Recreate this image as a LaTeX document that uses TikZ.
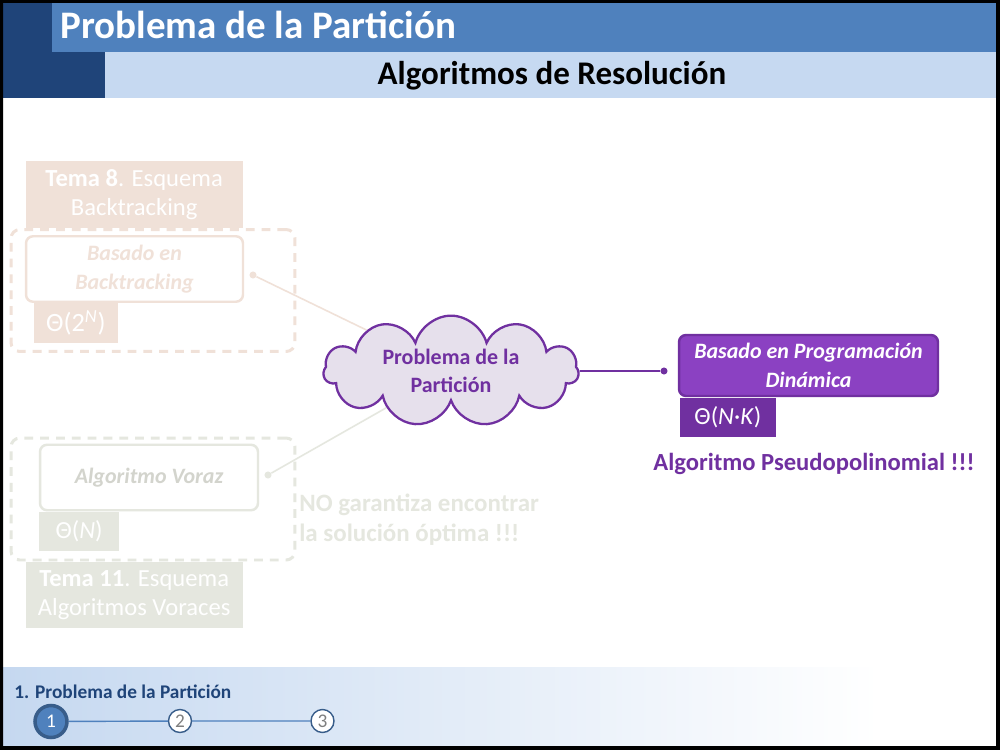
\documentclass[tikz,border=0pt]{standalone}
\usepackage{fontspec}
\setmainfont{Carlito}
\usetikzlibrary{positioning,shapes.symbols}

\definecolor{azuloscuro}{RGB}{31,68,121}
\definecolor{azulmedio}{RGB}{79,129,189}
\definecolor{azulclaro}{RGB}{198,217,241}
\definecolor{azulpie}{RGB}{197,216,240}
\definecolor{borde}{RGB}{56,93,138}
\definecolor{morado}{RGB}{112,48,160}
\definecolor{moradoclaro}{RGB}{139,65,194}
\definecolor{lila}{RGB}{230,224,236}
\definecolor{beige}{RGB}{240,225,216}
\definecolor{gris}{RGB}{229,231,223}
\definecolor{numgris}{RGB}{127,127,127}

\begin{document}
\begin{tikzpicture}[x=0.02cm,y=-0.02cm,tema node/.style={rectangle,inner sep=0pt,minimum width=4.34cm,minimum height=1.33cm,align=center,text=white,font=\fontsize{14}{16.5}\selectfont},frame node/.style={rectangle,rounded corners=5pt,draw,dash pattern=on 5pt off 4pt,line width=1.7pt,minimum width=5.68cm,minimum height=2.44cm},algo node/.style={rectangle,rounded corners=4pt,draw,line width=1.4pt,inner sep=0pt,minimum height=1.31cm,align=center,font=\fontsize{12.5}{16.5}\selectfont\bfseries\itshape},cota node/.style={rectangle,inner sep=0pt,minimum height=0.79cm,text=white,font=\fontsize{14}{16}\selectfont},dot node/.style={circle,fill,inner sep=0pt,minimum size=4pt},paso node/.style={circle,draw=borde,fill=white,inner sep=0pt,minimum size=0.46cm,line width=0.8pt,text=numgris,font=\fontsize{11}{13}\selectfont}]
\useasboundingbox (0,0) rectangle (1000,750);

% fondo
\fill[white] (0,0) rectangle (1000,750);

% cabecera
\fill[azuloscuro] (3,3) rectangle (105,98);
\fill[azulmedio] (52,3) rectangle (996,52);
\fill[azulclaro] (105,52) rectangle (996,98);
\node[anchor=base west,inner sep=0pt,text=white,font=\fontsize{22.2}{26}\selectfont\bfseries] (t) at (60,39) {Problema de la Partición};
\node[anchor=base,inner sep=0pt,font=\fontsize{18.8}{22}\selectfont\bfseries] (s) at (552,85) {Algoritmos de Resolución};

% pie
\shade[left color=azulpie,right color=white] (3,667) rectangle (880,746);
\node[anchor=base west,inner sep=0pt,text=azuloscuro,font=\fontsize{11}{13}\selectfont\bfseries] (p) at (14,698) {1. Problema de la Partición};
\node[paso node,fill=azulmedio,line width=2pt,minimum size=0.64cm,text=white] (p1) at (51,721.5) {1};
\node[paso node] (p2) at (180,721) {2};
\node[paso node] (p3) at (322.5,721) {3};
\draw[azulmedio,line width=0.8pt] (p1) -- (p2) -- (p3);

% backtracking
\node[frame node,draw=beige] (3) at (153,290.5) {};
\node[tema node,fill=beige,above=0pt of 3.north west,anchor=south west,xshift=9pt] (4) {\textbf{Tema 8}. Esquema\\Backtracking};
\node[algo node,draw=beige,text=beige,minimum width=4.34cm] (5) at (134.5,269) {Basado en\\Backtracking};
\node[cota node,fill=beige,minimum width=1.68cm,font=\fontsize{15}{16}\selectfont,below=0pt of 5.south west,anchor=north west,xshift=5pt] (6) {Θ(2\textsuperscript{\textit{N}})};
\node[dot node,fill=beige] (7) at (253,275) {};

% voraz
\node[frame node,draw=gris] (8) at (153,499) {};
\node[algo node,draw=gris,text=gris!92!black,minimum width=4.36cm] (9) at (149,477.5) {Algoritmo Voraz};
\node[cota node,fill=gris,minimum width=1.6cm,below=0pt of 9.south west,anchor=north west] (10) {Θ(\textit{N})};
\node[tema node,fill=gris,below=0pt of 8.south west,anchor=north west,xshift=9pt] (11) {\textbf{Tema 11}. Esquema\\Algoritmos Voraces};
\node[dot node,fill=gris] (12) at (268,475) {};
\node[anchor=west,inner sep=0pt,align=left,text=gris,font=\fontsize{14.2}{17}\selectfont\bfseries] (13) at (299,520) {NO garantiza encontrar\\la solución óptima !!!};

% problema
\node[cloud,cloud puffs=11,aspect=2.7,draw=morado,fill=lila,line width=1.3pt,minimum width=5.1cm,minimum height=1.9cm,align=center,inner sep=0pt,text=morado,font=\fontsize{12.5}{16}\selectfont\bfseries] (1) at (451,371) {Problema de la\\Partición};

% programacion dinamica
\node[algo node,draw=morado,fill=moradoclaro,text=white,minimum width=5.18cm,minimum height=1.22cm] (2) at (808.5,365.5) {Basado en Programación\\Dinámica};
\node[cota node,fill=morado,minimum width=1.92cm,below=0pt of 2.south west,anchor=north west,xshift=1pt] (14) {Θ(\textit{N}·\textit{K})};
\node[dot node,fill=morado] (15) at (664,371) {};
\node[text=morado,font=\fontsize{14}{17}\selectfont\bfseries] (16) at (814,464) {Algoritmo Pseudopolinomial !!!};

%conectores
\draw[beige,line width=0.9pt] (7) -- (1);
\draw[gris,line width=0.9pt] (12) -- (1);
\draw[morado,line width=0.9pt] (1) -- (15);

% marco
\fill[black,even odd rule] (0,0) rectangle (1000,750) (3,3) rectangle (996,746);

\end{tikzpicture}
\end{document}
